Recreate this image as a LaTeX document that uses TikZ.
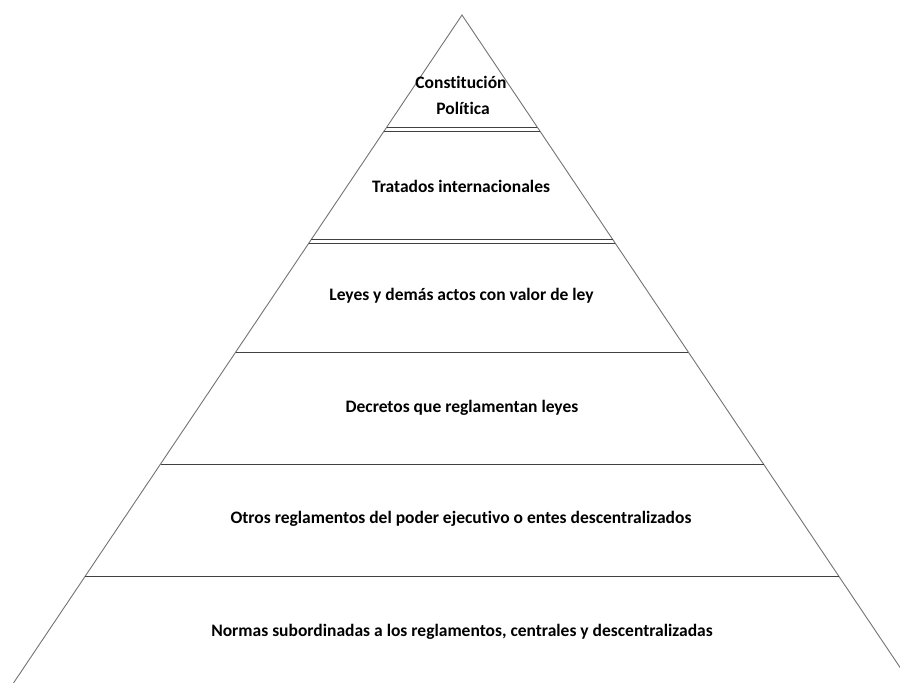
\documentclass[tikz,border=0pt]{standalone}
\usepackage{fontspec}
\setmainfont{Carlito}[RawFeature={-liga;-clig;-dlig}]
\begin{document}
\begin{tikzpicture}[x=1pt,y=-1pt,
  edge/.style={draw=black!55,line width=0.9pt},
  tier/.style={draw=black!75,line width=0.9pt},
  lbl/.style={font=\bfseries\fontsize{17.5}{20}\selectfont,text=black,inner sep=0pt,anchor=center}]
\useasboundingbox (0,0) rectangle (900,683);
\clip (0,0) rectangle (900,683);
% outline of the pyramid
\coordinate (apex) at (462,15);
\coordinate (bl) at (13.5,683);
\coordinate (br) at (910.5,683);
\draw[edge] (bl) -- (apex) -- (br);
% tier lines
\draw[tier] (386.8,127) -- (537.2,127);
\draw[tier] (384.1,131) -- (539.9,131);
\draw[tier] (311.3,239.5) -- (612.7,239.5);
\draw[tier] (308.6,243.5) -- (615.4,243.5);
\draw[tier] (235.7,352) -- (688.3,352);
\draw[tier] (160.5,464) -- (763.5,464);
\draw[tier] (85.3,576) -- (838.7,576);
% labels
\node[lbl] (t1a) at (461,82) {Constitución};
\node[lbl] (t1b) at (463,108) {Política};
\node[lbl] (t2) at (461,186) {Tratados internacionales};
\node[lbl] (t3) at (461.5,296) {Leyes y demás actos con valor de ley};
\node[lbl] (t4) at (462,408) {Decretos que reglamentan leyes};
\node[lbl] (t5) at (461,519) {Otros reglamentos del poder ejecutivo o entes descentralizados};
\node[lbl] (t6) at (462,632) {Normas subordinadas a los reglamentos, centrales y descentralizadas};
\end{tikzpicture}
\end{document}
